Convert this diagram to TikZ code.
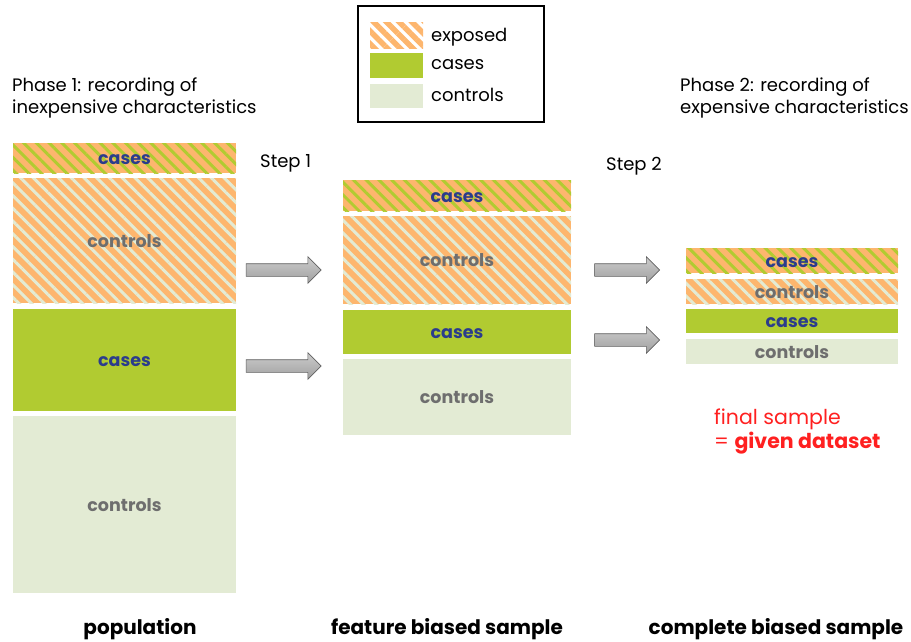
\documentclass[tikz,border=0pt]{standalone}
\usepackage{fontspec}
\setmainfont{Poppins}
\usetikzlibrary{patterns.meta,shapes.arrows}
\definecolor{expo}{HTML}{FDB66E}
\definecolor{casegreen}{HTML}{B1CB31}
\definecolor{ctrlgreen}{HTML}{E3EBD4}
\definecolor{casetxt}{HTML}{2B3C8C}
\definecolor{ctrltxt}{HTML}{6E6E6E}
\definecolor{finalred}{HTML}{FF2020}
\tikzset{
  blk/.style={rectangle, inner sep=0pt, text height=13pt, text depth=0pt, font=\fontsize{17.5}{20}\selectfont\bfseries},
  hcase/.style={blk, text=casetxt, preaction={fill=expo},
    pattern={Lines[angle=-45,distance=9pt,line width=3pt]}, pattern color=casegreen},
  hctrl/.style={blk, text=ctrltxt, preaction={fill=expo},
    pattern={Lines[angle=-45,distance=9pt,line width=3pt]}, pattern color=ctrlgreen},
  pcase/.style={blk, text=casetxt, fill=casegreen},
  pctrl/.style={blk, text=ctrltxt, fill=ctrlgreen},
  bigarrow/.style={single arrow, inner sep=0pt, minimum width=0pt, text height=12pt, text depth=0pt,
    single arrow head extend=7pt, draw=gray!75!black, line width=0.6pt,
    top color=gray!40, bottom color=gray!75},
  lbl/.style={font=\fontsize{18}{22}\selectfont, align=left, inner sep=0pt},
  bottomlbl/.style={font=\fontsize{20}{22}\selectfont\bfseries, inner sep=0pt},
}
\begin{document}
\begin{tikzpicture}[x=1pt,y=-1pt]
\useasboundingbox (0,0) rectangle (911,641);
% legend
\node[draw=black, line width=2pt, minimum width=186pt, minimum height=116pt, inner sep=0pt] (legend) at (451,64) {};
\node[rectangle, inner sep=0pt, minimum width=53pt, minimum height=26pt,
  pattern={Lines[angle=-45,distance=9pt,line width=5.5pt]}, pattern color=expo] (lexp) at (396.5,35) {};
\node[pcase, minimum width=53pt, minimum height=25pt] (lcase) at (396.5,65.5) {};
\node[pctrl, minimum width=53pt, minimum height=24pt] (lctrl) at (396.5,96) {};
\node[lbl, anchor=west] (texp) at (431,37) {exposed};
\node[lbl, anchor=west] (tcase) at (431,65) {cases};
\node[lbl, anchor=west] (tctrl) at (431,95) {controls};
% phase labels
\node[lbl, anchor=west] (ph1) at (12,98) {Phase 1: recording of\\inexpensive characteristics};
\node[lbl, anchor=west] (ph2) at (680,98) {Phase 2: recording of\\expensive characteristics};
\node[lbl, anchor=west] (st1) at (260,163.5) {Step 1};
\node[lbl, anchor=west] (st2) at (606,166.5) {Step 2};
% population
\node[hcase, minimum width=223pt, minimum height=30pt] (p1) at (124.5,158) {cases};
\node[hctrl, minimum width=223pt, minimum height=125pt] (p2) at (124.5,240.5) {controls};
\node[pcase, minimum width=223pt, minimum height=102pt] (p3) at (124.5,360) {cases};
\node[pctrl, minimum width=223pt, minimum height=177pt] (p4) at (124.5,504.5) {controls};
% feature biased
\node[hcase, minimum width=228pt, minimum height=31pt] (f1) at (457,195.5) {cases};
\node[hctrl, minimum width=228pt, minimum height=88pt] (f2) at (457,260) {controls};
\node[pcase, minimum width=228pt, minimum height=44pt] (f3) at (457,332) {cases};
\node[pctrl, minimum width=228pt, minimum height=76pt] (f4) at (457,397) {controls};
% complete
\node[hcase, minimum width=212pt, minimum height=25pt] (c1) at (792,260.5) {cases};
\node[hctrl, minimum width=212pt, minimum height=25pt] (c2) at (792,291.5) {controls};
\node[pcase, minimum width=212pt, minimum height=24pt] (c3) at (792,321) {cases};
\node[pctrl, minimum width=212pt, minimum height=25pt] (c4) at (792,351.5) {controls};
% arrows
\node[bigarrow, minimum height=75pt] (a1) at (280.5,270) {};
\node[bigarrow, minimum height=75pt] (a2) at (280.5,366) {};
\node[bigarrow, minimum height=65pt] (a3) at (624,270) {};
\node[bigarrow, minimum height=65pt] (a4) at (624,340) {};
% final
\node[lbl, anchor=west, text=finalred, font=\fontsize{20.5}{24}\selectfont] (fin) at (714,431) {final sample\\= \textbf{given dataset}};
% bottom
\node[bottomlbl] (bp) at (140,629.5) {population};
\node[bottomlbl] (bf) at (447,629.5) {feature biased sample};
\node[bottomlbl] (bc) at (776,629.5) {complete biased sample};
\end{tikzpicture}
\end{document}
